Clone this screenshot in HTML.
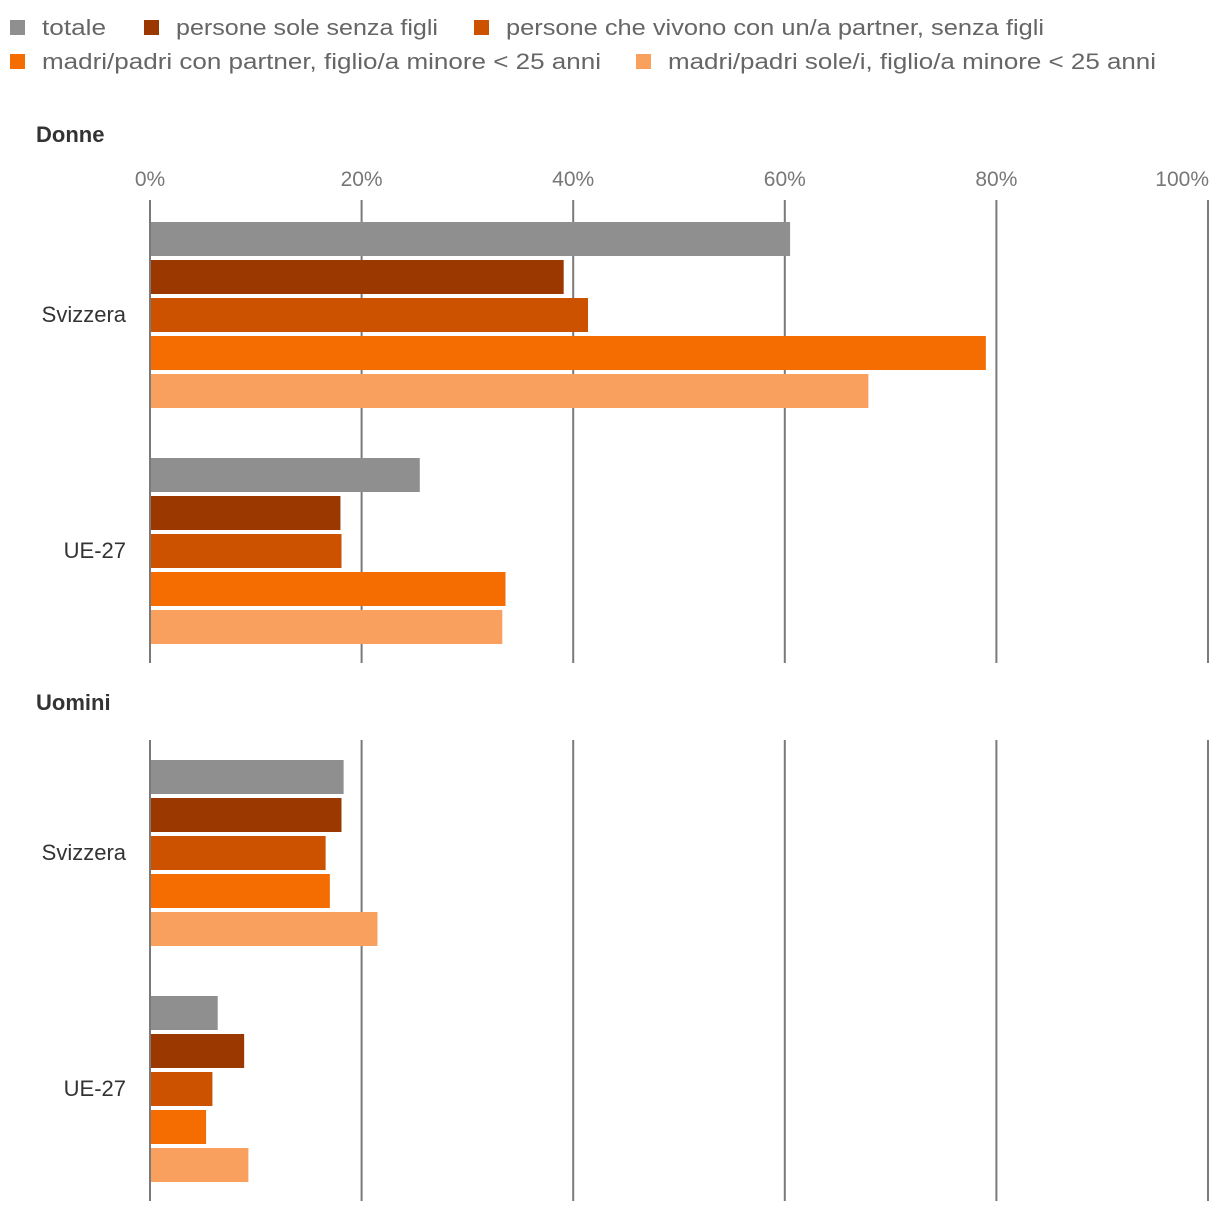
<!DOCTYPE html>
<html><head><meta charset="utf-8"><style>
body{margin:0;background:#fff;width:1220px;height:1212px;overflow:hidden;font-family:"Liberation Sans","DejaVu Sans",sans-serif}
</style></head><body>
<svg id="chart" width="1220" height="1212" xmlns="http://www.w3.org/2000/svg" font-family="Liberation Sans, DejaVu Sans, sans-serif"></svg>
<script>
const seriesNames = ["totale","persone sole senza figli","persone che vivono con un/a partner, senza figli","madri/padri con partner, figlio/a minore < 25 anni","madri/padri sole/i, figlio/a minore < 25 anni"];
const colors = ["#8f8f8f","#9a3800","#cc5200","#f56c00","#f9a05e"];
const categories = ["Svizzera","UE-27"];
const ticks = [0,20,40,60,80,100];
const tickLabels = ["0%","20%","40%","60%","80%","100%"];
const donneSvizzera = [60.5,39.1,41.4,79.0,67.9];
const donneUE = [25.5,18.0,18.1,33.6,33.3];
const uominiSvizzera = [18.3,18.1,16.6,17.0,21.5];
const uominiUE = [6.4,8.9,5.9,5.3,9.3];

const svg = document.getElementById('chart');
const NS = "http://www.w3.org/2000/svg";
function mk(tag, a, txt){const e=document.createElementNS(NS,tag);for(const k in a)e.setAttribute(k,a[k]);if(txt!==undefined)e.textContent=txt;svg.appendChild(e);return e;}
const x = v => 150 + v*10.58;

// legend
const legPos = [[10,34],[144,34],[474,34],[10,68],[636,68]];
const legLen = [64,262,538,559,488];
seriesNames.forEach((n,i)=>{
  const [lx,ly]=legPos[i];
  const r=mk('rect',{x:lx,y:ly-14,width:15,height:15,fill:colors[i]});
  
  
  const t=mk('text',{x:lx+32,y:ly+1,'font-size':22,fill:'#666',textLength:legLen[i],lengthAdjust:'spacingAndGlyphs'},n);
  
  
});

function panel(title, titleY, gridTop, gridBot, barTop, data, showTicks, key){
  const tt=mk('text',{x:36,y:titleY,'font-size':22,'font-weight':'bold',fill:'#333'},title);
  
  
  ticks.forEach((t,i)=>{
    const l=mk('line',{x1:x(t),x2:x(t),y1:gridTop,y2:gridBot,stroke:'#7a7a7a','stroke-width':2});
    
    
    if(showTicks){
      const last = i===ticks.length-1;
      const tl=mk('text',{x:last?x(t)+1:x(t),y:186,'font-size':21,fill:'#777','text-anchor':last?'end':'middle'},tickLabels[i]);
      
      
    }
  });
  data.forEach((vals,ci)=>{
    const gy=barTop+ci*236;
    const cl=mk('text',{x:126,y:gy+100,'font-size':22,fill:'#333','text-anchor':'end'},categories[ci]);
    
    
    vals.forEach((v,si)=>{
      const b=mk('rect',{x:151,y:gy+si*38,width:Math.max(0,x(v)-151),height:34,fill:colors[si]});
      
      
    });
  });
}
panel('Donne',142,200,663,222,[donneSvizzera,donneUE],true,'donne');
panel('Uomini',710,740,1201,760,[uominiSvizzera,uominiUE],false,'uomini');
</script>
</body></html>
